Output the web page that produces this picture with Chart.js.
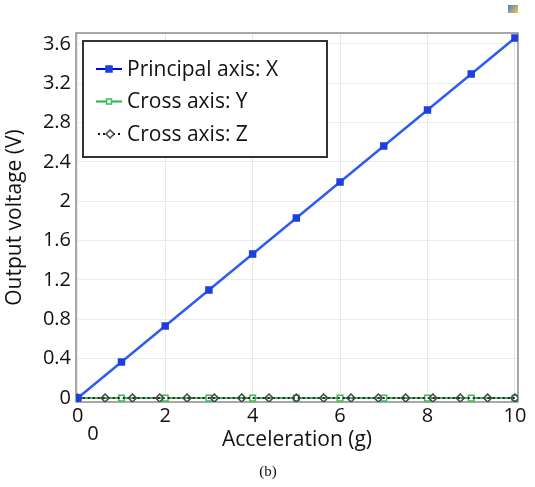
<!DOCTYPE html>
<html>
<head>
<meta charset="utf-8">
<script src="https://cdn.jsdelivr.net/npm/chart.js@4"></script>
<style>
  html, body { margin: 0; padding: 0; background: #fff; }
  #wrap { width: 535px; height: 487px; }
</style>
</head>
<body>
<div id="wrap"><canvas id="chart"></canvas></div>
<script>
// values
const xPrincipal = [0, 1, 2, 3, 4, 5, 6, 7, 8, 9, 10]
const vPrincipal = [0, 0.366, 0.732, 1.098, 1.464, 1.83, 2.196, 2.562, 2.928, 3.294, 3.66]
const xCrossY = [0, 1, 2, 3, 4, 5, 6, 7, 8, 9, 10]
const vCrossY = [0, 0, 0, 0, 0, 0, 0, 0, 0, 0, 0]
const xCrossZ = [0, 0.625, 1.25, 1.875, 2.5, 3.125, 3.75, 4.375, 5, 5.625, 6.25, 6.875, 7.5, 8.125, 8.75, 9.375, 10]
const vCrossZ = [0, 0, 0, 0, 0, 0, 0, 0, 0, 0, 0, 0, 0, 0, 0, 0, 0]
const seriesNames = ['Principal axis: X', 'Cross axis: Y', 'Cross axis: Z']
const legendLineColors = ['#0000ff', '#22b24c', '#111111']
const xTitle = 'Acceleration (g)'
const yTitle = 'Output voltage (V)'

const FONT = '"Open Sans", sans-serif'

const pts = (xs, ys) => xs.map((x, i) => ({ x, y: ys[i] }))

const frameAndLegend = {
    id: 'frameAndLegend',
    beforeDatasetsDraw(chart) {
        const { ctx, chartArea: a } = chart
        ctx.save()
        ctx.strokeStyle = '#8c8c8c'
        ctx.lineWidth = 1.5
        ctx.strokeRect(a.left, a.top, a.right - a.left, a.bottom - a.top)
        ctx.restore()
    },
    afterDraw(chart) {
        const { ctx } = chart
        ctx.save()
        // legend box
        const bx = 83, by = 41, bw = 244, bh = 116
        ctx.fillStyle = '#fff'
        ctx.fillRect(bx, by, bw, bh)
        ctx.strokeStyle = '#333'
        ctx.lineWidth = 2
        ctx.strokeRect(bx, by, bw, bh)
        ctx.font = '21px ' + FONT
        ctx.textBaseline = 'middle'
        chart.data.datasets.forEach((ds, i) => {
            const y = 69 + i * 32.5
            ctx.strokeStyle = legendLineColors[i]
            ctx.lineWidth = 2
            ctx.setLineDash(ds.borderDash || [])
            ctx.beginPath()
            ctx.moveTo(i === 2 ? 98 : 96, y)
            ctx.lineTo(122, y)
            ctx.stroke()
            ctx.setLineDash([])
            ctx.lineWidth = 1.5
            ctx.strokeStyle = ds.pointBorderColor
            ctx.fillStyle = ds.pointBackgroundColor
            const r = i === 1 ? 2.5 : 3
            if (ds.pointStyle === 'rectRot') {
                ctx.fillStyle = '#fff'
                ctx.beginPath()
                ctx.moveTo(110, y - 4); ctx.lineTo(114, y); ctx.lineTo(110, y + 4); ctx.lineTo(106, y); ctx.closePath()
            } else {
                ctx.beginPath()
                ctx.rect(109 - r, y - r, 2 * r, 2 * r)
            }
            ctx.fill(); ctx.stroke()
            ctx.fillStyle = '#111'
            ctx.fillText(ds.label, 127, y + 1)
        })
        // extra zero under the axis
        ctx.font = '20px ' + FONT
        ctx.textAlign = 'center'
        ctx.fillStyle = '#111'
        ctx.fillText('0', 93, 434)
        // caption
        ctx.font = '15px "Liberation Serif", serif'
        ctx.fillText('(b)', 268, 472)
        // little icon top right
        const g = ctx.createLinearGradient(507, 5, 517, 13)
        g.addColorStop(0, '#2a7fd4'); g.addColorStop(1, '#f2c24a')
        ctx.fillStyle = g
        ctx.fillRect(508, 5, 10, 8)
        ctx.restore()
    }
}

new Chart('chart', {
    type: 'line',
    data: {
        datasets: [{
            label: seriesNames[0],
            data: pts(xPrincipal, vPrincipal),
            borderColor: '#2f5cf2',
            borderWidth: 2.5,
            pointStyle: 'rect',
            pointRadius: 3.5,
            pointBackgroundColor: '#1d3fe0',
            pointBorderColor: '#1d3fe0',
            order: 1
        }, {
            label: seriesNames[1],
            data: pts(xCrossY, vCrossY),
            borderColor: '#3dbb5a',
            borderWidth: 2,
            pointStyle: 'rect',
            pointRadius: 4,
            pointBackgroundColor: '#ffffff',
            pointBorderColor: '#3dbb5a',
            pointBorderWidth: 1.5,
            order: 3
        }, {
            label: seriesNames[2],
            data: pts(xCrossZ, vCrossZ),
            borderColor: '#222',
            borderWidth: 2,
            borderDash: [2, 3],
            pointStyle: 'rectRot',
            pointRadius: 4,
            pointBackgroundColor: 'rgba(255,255,255,0)',
            pointBorderColor: '#444',
            pointBorderWidth: 1.5,
            order: 2
        }]
    },
    options: {
        responsive: true,
        maintainAspectRatio: false,
        animation: false,
        layout: { padding: { top: 33, right: 17, bottom: 33, left: 0 } },
        plugins: { legend: { display: false }, tooltip: { enabled: false } },
        scales: {
            x: {
                type: 'linear',
                min: -0.04,
                max: 10.07,
                afterBuildTicks: (s) => { s.ticks = [0, 2, 4, 6, 8, 10].map(v => ({ value: v })) },
                afterFit: (s) => { s.height = 52 },
                ticks: { color: '#111', font: { size: 20, family: FONT }, padding: 2, maxRotation: 0 },
                grid: { color: '#e8e8e8', tickLength: 0 },
                border: { display: false },
                title: { display: true, text: xTitle, color: '#111', font: { size: 21, family: FONT }, padding: { top: 0, bottom: 1 } }
            },
            y: {
                min: -0.04,
                max: 3.71,
                afterBuildTicks: (s) => {
                    const t = []
                    for (let i = 0; i <= 18; i++) t.push({ value: +(i * 0.2).toFixed(1) })
                    s.ticks = t
                },
                afterFit: (s) => { s.width = 76 },
                ticks: {
                    color: '#111',
                    font: { size: 20, family: FONT },
                    padding: 5,
                    callback: (v) => (Math.round(v * 10) % 4 === 0 ? String(+v.toFixed(1)) : '')
                },
                grid: { color: '#ececec', tickLength: 0 },
                border: { display: false },
                title: { display: true, text: yTitle, color: '#111', font: { size: 21, family: FONT }, padding: { top: 2, bottom: 0 } }
            }
        }
    },
    plugins: [frameAndLegend]
})
</script>
</body>
</html>
